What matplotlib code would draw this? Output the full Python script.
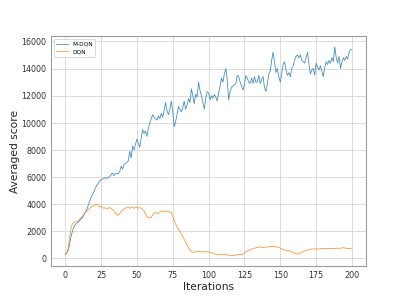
import matplotlib
matplotlib.use("Agg")
import matplotlib.pyplot as plt
import numpy as np

# averaged score per iteration, in thousands
mdqn_k = [
    0.3, 0.4, 0.6, 1.0, 1.6, 2.0, 2.3, 2.5, 2.6, 2.65,
    2.8, 2.9, 3.0, 3.2, 3.4, 3.6, 3.9, 4.2, 4.5, 4.7,
    4.9, 5.2, 5.4, 5.5, 5.7, 5.8, 5.85, 5.9, 5.95, 5.9,
    6.0, 6.0, 6.2, 6.3, 6.1, 6.25, 6.3, 6.25, 6.4, 6.8,
    6.6, 6.9, 7.0, 7.1, 7.2, 7.9, 7.4, 8.3, 8.0, 8.4,
    8.8, 8.5, 8.2, 8.9, 9.5, 9.2, 9.4, 9.0, 9.6, 10.0,
    10.3, 10.6, 10.4, 10.3, 10.2, 10.5, 10.3, 10.7, 10.4, 10.9,
    11.5, 10.9, 10.6, 11.0, 11.6, 10.8, 9.7, 10.1, 10.6, 11.2,
    11.0, 10.8, 11.1, 11.6, 11.0, 11.3, 11.8, 11.5, 12.5, 12.0,
    11.4, 12.1, 11.9, 13.0, 12.4, 12.0, 11.5, 11.0, 11.8, 12.3,
    12.2, 11.7, 12.0, 11.8, 12.1, 11.9, 11.6, 12.2, 12.7, 13.3,
    13.0, 13.6, 14.0, 13.2, 11.7, 12.3, 12.6, 12.7, 12.8, 12.9,
    13.5, 13.4, 13.0, 12.7, 12.4, 12.8, 13.5, 13.3, 13.0, 12.9,
    13.3, 12.9, 13.4, 13.0, 13.0, 13.5, 12.9, 13.2, 13.4, 12.6,
    12.3, 12.9, 13.6, 13.8, 14.6, 15.2, 14.5, 13.7, 14.0, 13.4,
    13.0, 13.6, 14.3, 14.5, 13.9, 13.5, 13.7, 13.4, 14.0, 14.2,
    14.6, 14.9, 15.0, 14.8, 15.0, 14.6, 14.5, 14.4, 14.8, 15.2,
    14.3, 13.6, 13.9, 14.0, 13.5, 14.4, 14.1, 13.9, 14.2, 13.8,
    13.4, 14.1, 14.5, 14.3, 14.6, 14.4, 14.8, 14.5, 15.6, 14.8,
    14.4, 14.9, 14.0, 14.5, 14.8, 14.6, 14.9, 14.7, 15.2, 15.4,
    15.4,
]

dqn_k = [
    0.3, 0.4, 0.7, 1.5, 2.2, 2.55, 2.65, 2.7, 2.7, 2.8,
    2.9, 3.0, 3.1, 3.25, 3.4, 3.5, 3.6, 3.7, 3.8, 3.85,
    3.9, 3.95, 4.0, 3.9, 3.8, 3.85, 3.75, 3.7, 3.75, 3.65,
    3.7, 3.75, 3.7, 3.6, 3.5, 3.35, 3.25, 3.2, 3.3, 3.45,
    3.55, 3.65, 3.7, 3.75, 3.8, 3.7, 3.75, 3.8, 3.7, 3.75,
    3.8, 3.7, 3.75, 3.7, 3.6, 3.5, 3.3, 3.1, 3.0, 3.0,
    3.05, 3.2, 3.35, 3.4, 3.3, 3.35, 3.45, 3.5, 3.45, 3.5,
    3.5, 3.45, 3.45, 3.4, 3.35, 3.1, 2.8, 2.55, 2.3, 2.15,
    2.0, 1.8, 1.6, 1.4, 1.2, 1.0, 0.8, 0.65, 0.5, 0.45,
    0.48, 0.5, 0.5, 0.5, 0.52, 0.5, 0.5, 0.48, 0.5, 0.5,
    0.48, 0.45, 0.45, 0.4, 0.35, 0.3, 0.3, 0.3, 0.3, 0.28,
    0.3, 0.3, 0.28, 0.25, 0.25, 0.22, 0.2, 0.22, 0.25, 0.25,
    0.28, 0.3, 0.3, 0.3, 0.32, 0.4, 0.5, 0.55, 0.6, 0.65,
    0.7, 0.72, 0.75, 0.8, 0.82, 0.85, 0.85, 0.82, 0.8, 0.82,
    0.85, 0.85, 0.85, 0.88, 0.88, 0.88, 0.87, 0.85, 0.85, 0.82,
    0.78, 0.7, 0.65, 0.62, 0.6, 0.6, 0.58, 0.55, 0.5, 0.45,
    0.38, 0.35, 0.33, 0.35, 0.4, 0.45, 0.5, 0.55, 0.6, 0.62,
    0.65, 0.68, 0.7, 0.7, 0.7, 0.72, 0.7, 0.7, 0.72, 0.73,
    0.72, 0.72, 0.73, 0.75, 0.73, 0.73, 0.75, 0.74, 0.74, 0.75,
    0.76, 0.75, 0.76, 0.78, 0.8, 0.78, 0.75, 0.73, 0.73, 0.72,
    0.72,
]

iters = np.arange(len(mdqn_k))
mdqn = np.array(mdqn_k) * 1000
dqn = np.array(dqn_k) * 1000

fig, ax = plt.subplots(figsize=(6.4, 4.8), dpi=407 / 6.4)
fig.subplots_adjust(left=0.125, right=0.9, top=0.88, bottom=0.127)
ax.plot(iters, mdqn, color="tab:blue", lw=0.9, alpha=0.85, label="M-DQN")
ax.plot(iters, dqn, color="tab:orange", lw=0.9, alpha=0.85, label="DQN")

ax.grid(color="#d5d5d5", lw=0.9)
ax.set_axisbelow(True)
for sp in ax.spines.values():
    sp.set_color("#999999")
    sp.set_linewidth(1.2)
ax.tick_params(colors="#333333", length=0, labelsize=9, pad=5)
ax.set_xticks([0, 25, 50, 75, 100, 125, 150, 175, 200])
ax.set_xlabel("Iterations", fontsize=12, color="#222222", labelpad=2)
ax.set_ylabel("Averaged score", fontsize=12, color="#222222", labelpad=1)
ax.legend(loc="upper left", fontsize=6.5, frameon=True)

fig.savefig("out.png", dpi=407 / 6.4)
